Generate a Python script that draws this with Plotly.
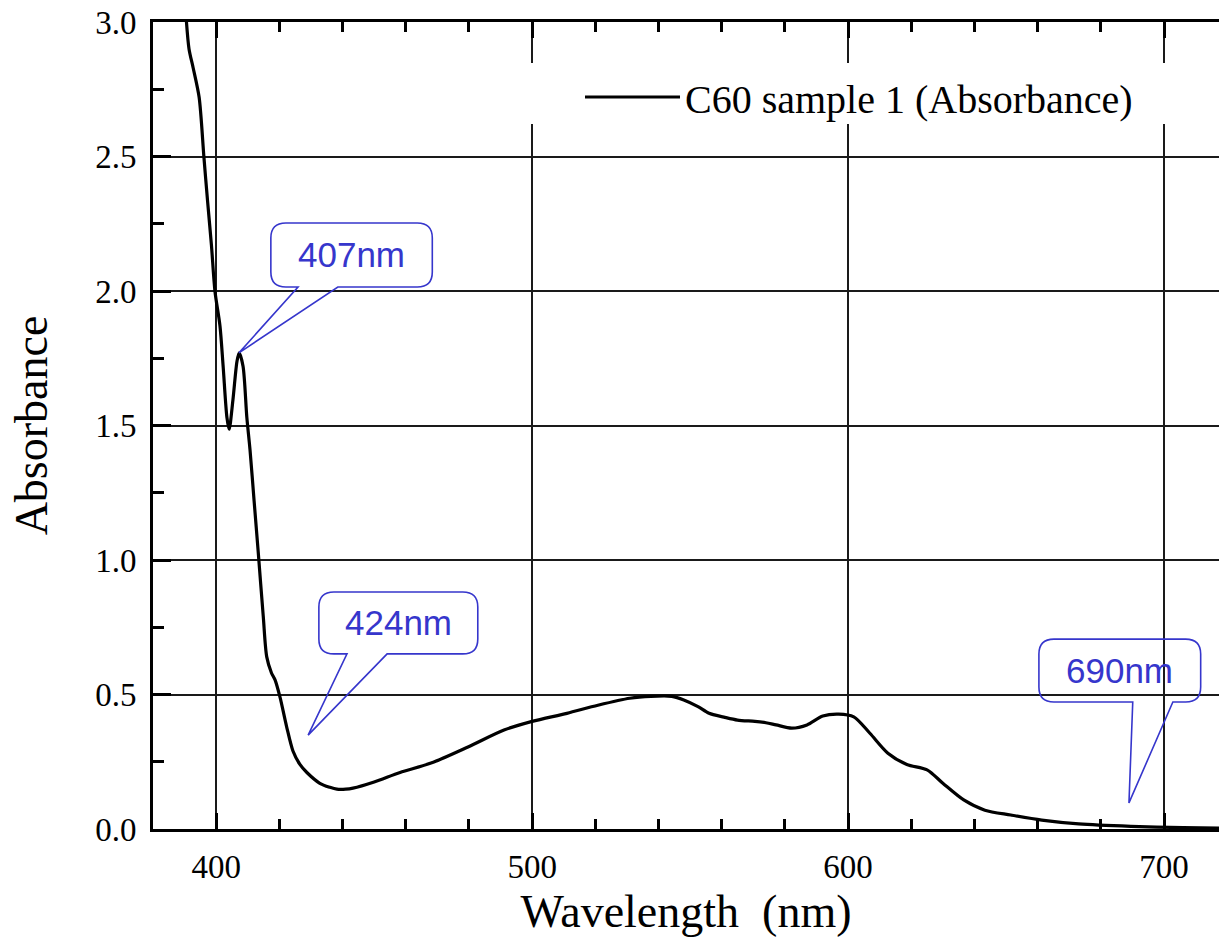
import plotly.graph_objects as go

# ---------------- data ----------------
wavelength = [390.4, 391.4, 392.7, 394.6, 396.1, 397.3, 398.5, 399.6, 401.2, 402.2,
              403.4, 404.1, 405.3, 406.6, 407.3, 408.5, 409.7, 410.7, 412.0, 413.3,
              414.9, 416.0, 417.5, 418.6, 420.2, 422.3, 424.3, 426.5, 428.7, 432.8,
              436.0, 438.2, 441.0, 443.3, 450.0, 458.2, 468.0, 479.7, 491.1, 500.0,
              511.0, 520.8, 530.9, 537.6, 544.2, 548.0, 552.5, 556.0, 560.7, 565.0,
              570.5, 574.0, 577.2, 582.2, 587.0, 592.0, 597.0, 601.8, 606.9, 612.6,
              618.6, 625.0, 630.0, 636.6, 643.3, 651.5, 661.3, 673.0, 689.5, 706.0,
              720.0]
absorbance = [3.03, 2.90, 2.83, 2.72, 2.50, 2.33, 2.17, 2.00, 1.87, 1.72,
              1.53, 1.486, 1.595, 1.74, 1.77, 1.72, 1.53, 1.41, 1.22, 1.03,
              0.79, 0.64, 0.58, 0.555, 0.49, 0.38, 0.29, 0.24, 0.21, 0.17,
              0.155, 0.148, 0.148, 0.152, 0.175, 0.21, 0.245, 0.305, 0.368, 0.40,
              0.43, 0.46, 0.486, 0.493, 0.493, 0.48, 0.455, 0.43, 0.416, 0.405,
              0.40, 0.395, 0.387, 0.375, 0.387, 0.42, 0.427, 0.417, 0.356, 0.282,
              0.24, 0.22, 0.17, 0.108, 0.07, 0.052, 0.033, 0.019, 0.01, 0.005,
              0.003]
series_name = "C60 sample 1 (Absorbance)"

x_ticks = [400, 500, 600, 700]
y_ticks = [0.0, 0.5, 1.0, 1.5, 2.0, 2.5, 3.0]

callout_labels = ["407nm", "424nm", "690nm"]
# tip (data) and box geometry (data units)
callout_tips = [(407.2, 1.77), (429.1, 0.349), (688.9, 0.097)]
callout_boxes = [(417.3, 468.4, 2.015, 2.253), (432.5, 482.8, 0.651, 0.881), (660.4, 711.6, 0.472, 0.706)]
callout_bases = [(425.9, 438.5), (441.4, 454.1), (690.1, 702.8)]

X_RANGE = [380, 717.4]
Y_RANGE = [0, 3.0]

# ---------------- figure ----------------
W, H = 1219, 949
ML, MR, MT, MB = 153, 0, 22, 120
plot_w = W - ML - MR
plot_h = H - MT - MB
px_per_x = plot_w / (X_RANGE[1] - X_RANGE[0])
px_per_y = plot_h / (Y_RANGE[1] - Y_RANGE[0])

BLUE = "#3636cc"
SERIF = "Liberation Serif, Times New Roman, serif"

fig = go.Figure()
fig.add_trace(go.Scatter(
    x=wavelength, y=absorbance, mode="lines", name=series_name,
    line=dict(color="black", width=3.2, shape="spline", smoothing=0.8),
    showlegend=True,
))

def px_to_paper_x(p):
    return (p - ML) / plot_w
def px_to_paper_y(p):
    return (H - MB - p) / plot_h

# white box behind legend (breaks gridlines)
shapes = [dict(type="rect", xref="paper", yref="paper",
               x0=px_to_paper_x(522), x1=px_to_paper_x(1190),
               y0=px_to_paper_y(124), y1=px_to_paper_y(63),
               fillcolor="white", line=dict(width=0), layer="above")]

r = 15
rx = r / px_per_x
ry = r / px_per_y
for (tx, ty), (x0, x1, y0, y1), (b0, b1) in zip(callout_tips, callout_boxes, callout_bases):
    path = (f"M{x0+rx},{y1} L{x1-rx},{y1} Q{x1},{y1} {x1},{y1-ry} "
            f"L{x1},{y0+ry} Q{x1},{y0} {x1-rx},{y0} L{b1},{y0} L{tx},{ty} L{b0},{y0} "
            f"L{x0+rx},{y0} Q{x0},{y0} {x0},{y0+ry} L{x0},{y1-ry} Q{x0},{y1} {x0+rx},{y1} Z")
    shapes.append(dict(type="path", xref="x", yref="y", path=path,
                       line=dict(color=BLUE, width=1.6), fillcolor="rgba(0,0,0,0)", layer="above"))

annotations = []
for label, (x0, x1, y0, y1) in zip(callout_labels, callout_boxes):
    annotations.append(dict(x=(x0 + x1) / 2, y=(y0 + y1) / 2, xref="x", yref="y",
                            text=label, showarrow=False,
                            font=dict(family="Liberation Sans, Arial, sans-serif", size=35, color=BLUE),
                            xanchor="center", yanchor="middle"))

axis_common = dict(
    showline=True, linecolor="black", linewidth=3,
    ticks="inside", tickcolor="black", tickwidth=3,
    showgrid=True, gridcolor="#1a1a1a", gridwidth=1.5,
    zeroline=False,
    tickfont=dict(family=SERIF, size=33, color="black"),
)

fig.update_layout(
    width=W, height=H,
    margin=dict(l=ML, r=MR, t=MT, b=MB, autoexpand=False),
    paper_bgcolor="white", plot_bgcolor="white",
    shapes=shapes, annotations=annotations,
    showlegend=True,
    legend=dict(x=px_to_paper_x(580), y=px_to_paper_y(97), xanchor="left", yanchor="middle",
                bgcolor="rgba(0,0,0,0)", borderwidth=0, itemwidth=95,
                font=dict(family=SERIF, size=40, color="black")),
    xaxis=dict(axis_common, range=X_RANGE, tickvals=x_ticks, ticktext=[str(v) for v in x_ticks],
               ticklen=16, mirror="ticks", ticklabelstandoff=6,
               minor=dict(dtick=20, tick0=380, ticks="inside", ticklen=10, tickwidth=3,
                          tickcolor="black", showgrid=False),
               title=dict(text="Wavelength\u00a0 (nm)", standoff=12,
                          font=dict(family=SERIF, size=46, color="black"))),
    yaxis=dict(axis_common, range=Y_RANGE, tickvals=y_ticks, ticktext=[f"{v:.1f}" for v in y_ticks],
               ticklen=18, ticklabelstandoff=7,
               minor=dict(dtick=0.25, tick0=0, ticks="inside", ticklen=11, tickwidth=3,
                          tickcolor="black", showgrid=False),
               title=dict(text="Absorbance", standoff=34,
                          font=dict(family=SERIF, size=46, color="black"))),
)

fig.write_html("out.html")
